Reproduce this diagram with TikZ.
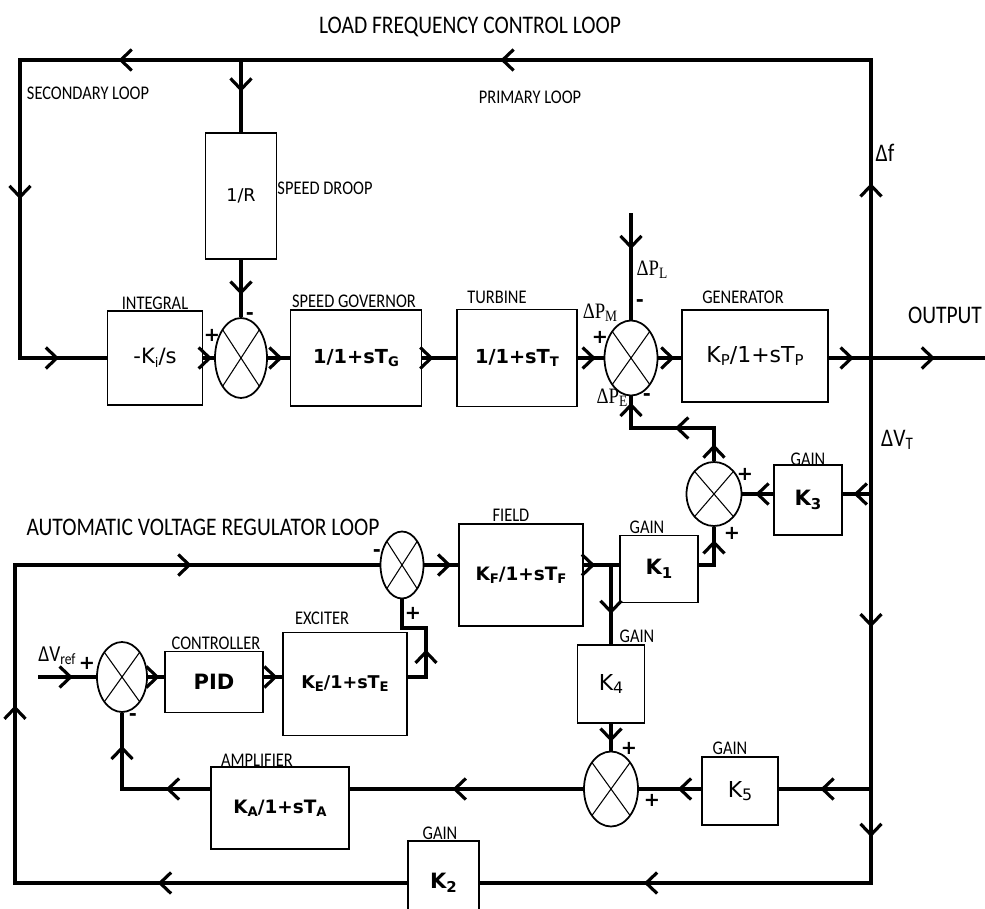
\documentclass[tikz,border=0pt]{standalone}
\usepackage{fontspec}
\setmainfont{Carlito}
\newfontfamily\capfont[FakeStretch=0.85]{Carlito}
\newfontfamily\blkfont{DejaVu Sans}
\newfontfamily\delfont[FakeStretch=0.85]{Liberation Serif}
\usetikzlibrary{arrows.meta, positioning, calc, shapes.geometric, decorations.markings}
\newcommand{\sbs}[2][7.5]{\raisebox{-0.3ex}{\fontsize{#1}{#1}\selectfont #2}}
\tikzset{
  blk/.style={draw, line width=1pt, inner sep=0pt, font=\blkfont\fontsize{11}{13}\selectfont},
  sumj/.style={draw, ellipse, line width=1pt, inner sep=0pt,
    path picture={\draw[line width=0.6pt] (path picture bounding box.north west) -- (path picture bounding box.south east)
      (path picture bounding box.north east) -- (path picture bounding box.south west);}},
  wire/.style={line width=1.8pt},
  arr/.style={postaction={decorate, decoration={markings, mark=at position #1 with {\arrow{>}}}}},
  lbl/.style={font=\capfont\fontsize{11}{12}\selectfont, inner sep=0pt},
  head/.style={font=\capfont\fontsize{14.4}{16}\selectfont, inner sep=0pt},
  sgn/.style={font=\blkfont\bfseries\fontsize{11}{12}\selectfont, inner sep=0pt},
  dlt/.style={font=\delfont\fontsize{12.5}{13}\selectfont, inner sep=0pt},
}
\begin{document}
\begin{tikzpicture}[x=0.2mm, y=-0.2mm, >={Straight Barb[length=2.2mm, width=4.2mm]}]
  \useasboundingbox (0,0) rectangle (985,909);
  \clip (0,0) rectangle (985,909);
  % load frequency control loop
  \node[blk, minimum width=14.2mm, minimum height=25.2mm, font=\blkfont\fontsize{10}{12}\selectfont] (droop) at (241,196) {1/R};
  \node[blk, minimum width=19mm, minimum height=18.8mm, font=\blkfont\fontsize{12}{14}\selectfont] (integ) at (155,358) {-K\sbs{i}/s};
  \node[sumj, minimum width=10.4mm, minimum height=16mm] (sumA) at (241,358) {};
  \node[blk, minimum width=26.2mm, minimum height=19.2mm] (gov) at (356,358) {\bfseries 1/1+sT\sbs{G}};
  \node[blk, minimum width=24mm, minimum height=19.4mm] (turb) at (517,358) {\bfseries 1/1+sT\sbs{T}};
  \node[sumj, minimum width=10.6mm, minimum height=15mm] (sumB) at (631,358) {};
  \node[blk, minimum width=29.2mm, minimum height=18.4mm, font=\blkfont\fontsize{12.5}{14}\selectfont] (gen) at (755,356) {K\sbs[8.5]{P}/1+sT\sbs[8.5]{P}};
  \node[sumj, minimum width=11mm, minimum height=12.8mm] (sumC) at (714,494) {};
  \node[blk, minimum width=13.6mm, minimum height=14mm, font=\blkfont\bfseries\fontsize{12}{14}\selectfont] (k3) at (808,500) {K\sbs[8.5]{3}};
  % automatic voltage regulator loop
  \node[sumj, minimum width=8.6mm, minimum height=13.4mm] (sumF) at (402,565) {};
  \node[blk, minimum width=24.8mm, minimum height=20.4mm, font=\blkfont\bfseries\fontsize{10.5}{12}\selectfont] (field) at (521,575) {K\sbs{F}/1+sT\sbs{F}};
  \node[blk, minimum width=15.6mm, minimum height=13.4mm, font=\blkfont\bfseries\fontsize{12}{14}\selectfont] (k1) at (659,569) {K\sbs[8.5]{1}};
  \node[blk, minimum width=13.4mm, minimum height=15.6mm, font=\blkfont\fontsize{12.5}{14}\selectfont] (k4) at (611,684) {K\sbs[9]{4}};
  \node[sumj, minimum width=10.8mm, minimum height=15mm] (sumD) at (611,789) {};
  \node[blk, minimum width=15.2mm, minimum height=13.6mm, font=\blkfont\fontsize{12.5}{14}\selectfont] (k5) at (740,791) {K\sbs[9]{5}};
  \node[blk, minimum width=27.6mm, minimum height=16.4mm, font=\blkfont\bfseries\fontsize{10.5}{12}\selectfont] (amp) at (280,808) {K\sbs{A}/1+sT\sbs{A}};
  \node[sumj, minimum width=10mm, minimum height=14mm] (sumE) at (122,677) {};
  \node[blk, minimum width=19.6mm, minimum height=12.2mm, font=\blkfont\bfseries\fontsize{12}{14}\selectfont] (pid) at (214,682) {PID};
  \node[blk, minimum width=24.8mm, minimum height=20.6mm, font=\blkfont\bfseries\fontsize{10}{12}\selectfont] (exc) at (345,684) {K\sbs{E}/1+sT\sbs{E}};
  \node[blk, minimum width=14.2mm, minimum height=16.8mm, font=\blkfont\bfseries\fontsize{12}{14}\selectfont] (k2) at (443.5,883) {K\sbs[8.5]{2}};

  \coordinate (oj) at (871,358);
  \coordinate (oe) at (985,358);
  \coordinate (tr) at (871,60);
  \coordinate (tl) at (20,60);
  \coordinate (br) at (871,883);
  \coordinate (bl) at (15,883);
  \coordinate (avr) at (15,565);
  \coordinate (pl) at (631,213);
  \coordinate (vref) at (38,677);
  \coordinate (fj) at (611,565);
  \coordinate (k3t) at (871,494);
  \coordinate (k5t) at (871,789);
  \coordinate (pe) at (714,428);
  \coordinate (ex) at (426,628);

  \draw[wire, arr=0.114, arr=0.436, arr=0.685, arr=0.84, arr=0.969] (oj) -- (tr) -- (tl) -- (tl |- sumA) -- (integ.west);
  \draw[wire, arr=0.44] (droop.north |- tr) -- (droop.north);
  \draw[wire, arr=0.61] (droop.south) -- (sumA.north);
  \draw[wire, arr=0.8] (integ.east) -- (sumA.west);
  \draw[wire, arr=0.68] (sumA.east) -- (gov.west |- sumA);
  \draw[wire, arr=0.33] (gov.east |- sumA) -- (turb.west |- sumA);
  \draw[wire, arr=0.7] (turb.east |- sumB) -- (sumB.west);
  \draw[wire, arr=0.34] (pl) -- (sumB.north);
  \draw[wire, arr=0.71] (sumB.east) -- (gen.west |- sumB);
  \draw[wire, arr=0.16, arr=0.68] (gen.east |- oj) -- (oj) -- (oe);
  \draw[wire, arr=0.294, arr=0.523, arr=0.821] (oj) -- (br) -- (k2.east);
  \draw[wire, arr=0.62] (k3t) -- (k3.east |- k3t);
  \draw[wire, arr=0.58] (k3.west |- sumC) -- (sumC.east);
  \draw[wire, arr=0.114, arr=0.488, arr=0.957] (sumC.north) -- (pe) -- (pe -| sumB) -- (sumB.south);
  \draw[wire, arr=0.232, arr=0.53, arr=0.825] (k2.west) -- (bl) -- (avr) -- (sumF.west);
  \draw[wire, arr=0.8] (sumF.east) -- (field.west |- sumF);
  \draw[wire, arr=0.32] (field.east |- fj) -- (fj) -- (k1.west |- fj);
  \draw[wire, arr=0.75] (k1.east |- fj) -- (sumC.south |- fj) -- (sumC.south);
  \draw[wire, arr=0.62] (fj) -- (k4.north);
  \draw[wire, arr=0.67] (k4.south) -- (sumD.north);
  \draw[wire, arr=0.55] (k5t) -- (k5.east |- k5t);
  \draw[wire, arr=0.375] (k5.west |- sumD) -- (sumD.east);
  \draw[wire, arr=0.56] (sumD.west) -- (amp.east |- sumD);
  \draw[wire, arr=0.27, arr=0.8] (amp.west |- sumD) -- (sumE.south |- sumD) -- (sumE.south);
  \draw[wire, arr=0.6] (vref) -- (sumE.west);
  \draw[wire, arr=0.72] (sumE.east) -- (pid.west |- sumE);
  \draw[wire, arr=0.75] (pid.east |- sumE) -- (exc.west |- sumE);
  \draw[wire, arr=0.38] (exc.east |- sumE) -- (ex |- sumE) -- (ex) -- (ex -| sumF) -- (sumF.south);

  \node[head] (lfcl) at (470,27) {LOAD FREQUENCY CONTROL LOOP};
  \node[head] (avrl) at (203,527) {AUTOMATIC VOLTAGE REGULATOR LOOP};
  \node[head] (outl) at (945,315) {OUTPUT};
  \node[lbl] (secl) at (88,93) {SECONDARY LOOP};
  \node[lbl] (pril) at (530,97) {PRIMARY LOOP};
  \node[lbl] (sdrl) at (325,188) {SPEED DROOP};
  \node[lbl] (intl) at (155,303) {INTEGRAL};
  \node[lbl] (govl) at (354,301) {SPEED GOVERNOR};
  \node[lbl] (turl) at (497,297) {TURBINE};
  \node[lbl] (genl) at (743,297) {GENERATOR};
  \node[lbl] (g3l) at (808,459) {GAIN};
  \node[lbl] (fldl) at (511,515) {FIELD};
  \node[lbl] (g1l) at (647,527) {GAIN};
  \node[lbl] (excl) at (322,618) {EXCITER};
  \node[lbl] (conl) at (216,643) {CONTROLLER};
  \node[lbl] (g4l) at (637,636) {GAIN};
  \node[lbl] (g5l) at (730,748) {GAIN};
  \node[lbl] (ampl) at (257,760) {AMPLIFIER};
  \node[lbl] (g2l) at (440,833) {GAIN};

  \node[dlt] (pml) at (600,313) {ΔP\sbs[9]{M}};
  \node[dlt] (pll) at (652,270) {ΔP\sbs[9]{L}};
  \node[dlt] (pel) at (612,398) {ΔP\sbs[9]{E}};
  \node[head] (dfl) at (885,153) {Δf};
  \node[head] (dvt) at (897,440) {ΔV\sbs[10]{T}};
  \node[lbl, font=\capfont\fontsize{13}{14}\selectfont] (dvr) at (57,656) {ΔV\sbs[9]{ref}};

  \node[sgn] (sa1) at (212,335) {+};
  \node[sgn] (sa2) at (250,316) {-};
  \node[sgn] (sb1) at (600,337) {+};
  \node[sgn] (sb2) at (640,303) {-};
  \node[sgn] (sb3) at (647,397) {-};
  \node[sgn] (sc1) at (745,474) {+};
  \node[sgn] (sc2) at (732,533) {+};
  \node[sgn] (sd1) at (629,748) {+};
  \node[sgn] (sd2) at (652,800) {+};
  \node[sgn] (se1) at (87,663) {+};
  \node[sgn] (se2) at (133,717) {-};
  \node[sgn] (sf1) at (377,553) {-};
  \node[sgn] (sf2) at (413,613) {+};
\end{tikzpicture}
\end{document}
